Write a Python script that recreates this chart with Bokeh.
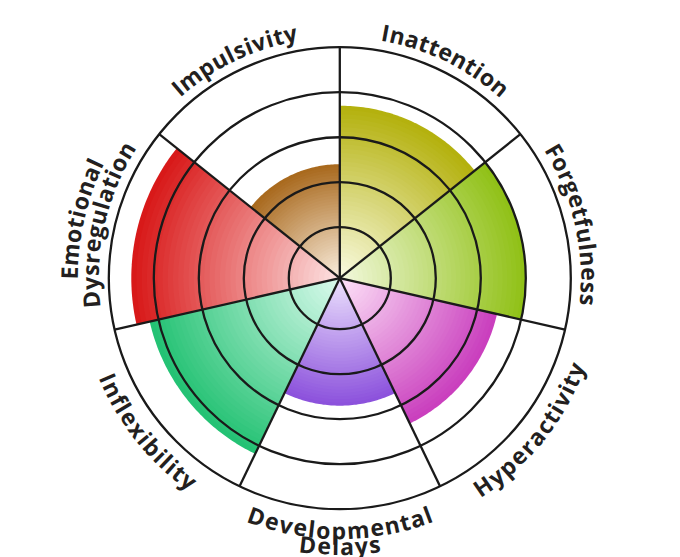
import numpy as np
from bokeh.plotting import figure
from bokeh.models import Range1d
from bokeh.embed import file_html
from bokeh.resources import INLINE
from bokeh.core.properties import value

# ---------------- data ----------------
categories = ["Inattention", "Forgetfulness", "Hyperactivity", "Developmental Delays",
              "Inflexibility", "Emotional Dysregulation", "Impulsivity"]
scores = [3.7, 4.0, 3.45, 2.7, 4.2, 4.5, 2.4]
label_lines = [["Inattention"], ["Forgetfulness"], ["Hyperactivity"],
               ["Developmental", "Delays"], ["Inflexibility"],
               ["Emotional", "Dysregulation"], ["Impulsivity"]]
ring_levels = [1, 2, 3, 4, 5]

outer_colors = ["#b3b00b", "#8fc014", "#c93dbd", "#8b50dc", "#22c172", "#d81616", "#a8681c"]
inner_colors = ["#fafbe2", "#f3f9de", "#fde3f8", "#ece2fd", "#dcfbee", "#fde4e4", "#faeede"]

# ---------------- layout / style ----------------
PX = 45.0            # pixels per unit
R0 = 6.0 / PX        # radial offset of the scale
W, H = 680, 557
CX, CY = 339.3, 277.7
LINE_COLOR = "#1a1a1a"
TEXT_COLOR = "#231f20"
FS = 23
LS = 1.2
NB = 40
UPPER_RB, UPPER_LH = 250, 21
LOWER_RB, LOWER_LH = 252, 16

widths = {"I": .33, "n": .635, "a": .59, "t": .41, "e": .59, "i": .295, "o": .61, "F": .52,
          "r": .44, "g": .55, "f": .38, "u": .635, "l": .295, "s": .49, "H": .745, "y": .56,
          "p": .62, "c": .5, "v": .56, "D": .735, "m": .955, "E": .53, "x": .57, "b": .62}


def rad(v):
    return R0 + v


def hex2rgb(h):
    h = h.lstrip("#")
    return np.array([int(h[i:i + 2], 16) for i in (0, 2, 4)], dtype=float)


def rgb2hex(c):
    c = np.clip(np.round(c), 0, 255).astype(int)
    return "#%02x%02x%02x" % tuple(c)


p = figure(width=W, height=H,
           x_range=Range1d(-CX / PX, (W - CX) / PX),
           y_range=Range1d(-(H - CY) / PX, CY / PX),
           output_backend="svg", toolbar_location=None, min_border=0,
           x_axis_location=None, y_axis_location=None,
           outline_line_color=None, background_fill_color="white")
p.grid.visible = False

n = len(categories)
step = 2 * np.pi / n
starts = [np.pi / 2 - i * step for i in range(n)]
ends = [s - step for s in starts]

# gradient-filled sectors (drawn from outer to inner)
xs, ys, cols = [], [], []
for i in range(n):
    R = rad(scores[i])
    c_in, c_out = hex2rgb(inner_colors[i]), hex2rgb(outer_colors[i])
    th = np.linspace(starts[i], ends[i], 60)
    for k in range(NB, 0, -1):
        t = k / NB
        r = R * t
        tc = (k - 0.5) / NB
        col = c_in + (c_out - c_in) * tc
        xs.append(np.concatenate([[0.0], r * np.cos(th)]).tolist())
        ys.append(np.concatenate([[0.0], r * np.sin(th)]).tolist())
        cols.append(rgb2hex(col))
p.patches(xs, ys, fill_color=cols, line_color=None)

# rings
p.circle(x=[0] * len(ring_levels), y=[0] * len(ring_levels),
         radius=[rad(v) for v in ring_levels],
         fill_color=None, line_color=LINE_COLOR, line_width=2.3)

# spokes
Rmax = rad(ring_levels[-1])
p.segment(x0=[0] * n, y0=[0] * n,
          x1=[Rmax * np.cos(s) for s in starts], y1=[Rmax * np.sin(s) for s in starts],
          line_color=LINE_COLOR, line_width=2.3)

# curved labels
tx, ty, tt, ta = [], [], [], []
for i in range(n):
    mid = (starts[i] + ends[i]) / 2
    upper = np.sin(mid) > 0
    lines = label_lines[i]
    for j, line in enumerate(lines):
        if upper:
            rb = UPPER_RB + UPPER_LH * (len(lines) - 1 - j)
        else:
            rb = LOWER_RB + LOWER_LH * j
        rbu = rb / PX
        adv = [widths[ch] * FS for ch in line]
        total = sum(adv) + LS * (len(line) - 1)
        span = total / rb
        pos = 0.0
        for ch, a in zip(line, adv):
            s = pos + a / 2
            if upper:
                th = mid + span / 2 - s / rb
                ang = th - np.pi / 2
            else:
                th = mid - span / 2 + s / rb
                ang = th + np.pi / 2
            tx.append(rbu * np.cos(th))
            ty.append(rbu * np.sin(th))
            tt.append(ch)
            ta.append(ang)
            pos += a + LS

p.text(x=tx, y=ty, text=tt, angle=ta, text_align="center", text_baseline="alphabetic",
       text_font=value("Open Sans"), text_font_style="bold",
       text_font_size=f"{FS}px", text_color=TEXT_COLOR)

open("out.html", "w").write(file_html(p, INLINE))
